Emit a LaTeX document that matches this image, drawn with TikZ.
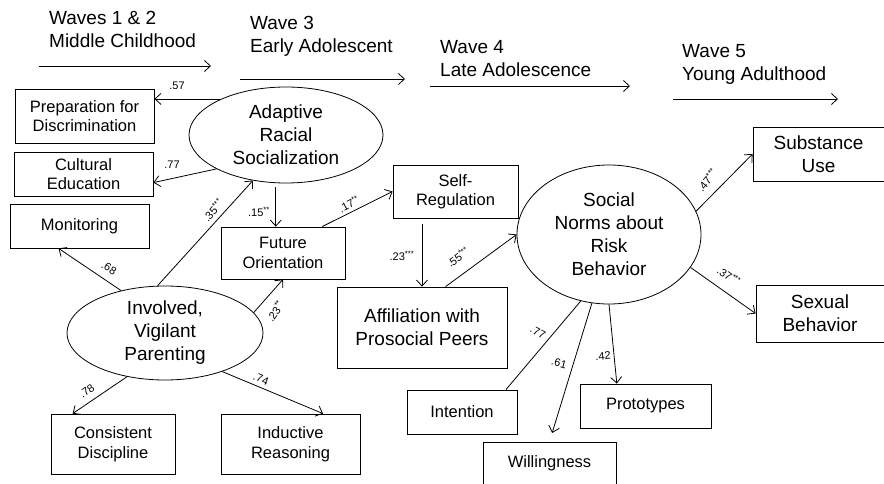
\documentclass[tikz,border=0pt]{standalone}
\usepackage{fontspec}
\setmainfont{Liberation Sans}
\usetikzlibrary{arrows.meta,calc,shapes.geometric}
\begin{document}
\begin{tikzpicture}[x=1pt,y=-1pt,
  box/.style={draw,line width=0.8pt,inner sep=0pt,align=center,font=\fontsize{16.5}{19.5}\selectfont},
  bigbox/.style={box,font=\fontsize{19}{23}\selectfont},
  lat/.style={draw,ellipse,line width=0.8pt,inner sep=0pt,align=center,font=\fontsize{19}{23}\selectfont},
  arr/.style={line width=0.8pt,-{Straight Barb[length=6pt,width=11pt]}},
  plain/.style={line width=0.8pt},
  lbl/.style={font=\fontsize{11}{12}\selectfont,inner sep=0pt},
  hdr/.style={align=left,anchor=west,inner sep=0pt,font=\fontsize{19}{23}\selectfont}]
\useasboundingbox (0,0) rectangle (884,484);

% header
\node[hdr] (w12) at (49,29) {Waves 1 \& 2\\Middle Childhood};
\node[hdr] (w3) at (250,36) {Wave 3\\Early Adolescent};
\node[hdr] (w4) at (440,59) {Wave 4\\Late Adolescence};
\node[hdr] (w5) at (682,64) {Wave 5\\Young Adulthood};
\coordinate (a1s) at (39,66);  \coordinate (a1e) at (211,66);
\coordinate (a3s) at (240,79); \coordinate (a3e) at (405,79);
\coordinate (a4s) at (430,86); \coordinate (a4e) at (630,86);
\coordinate (a5s) at (673,99); \coordinate (a5e) at (838,99);
\draw[arr] (a1s) -- (a1e);
\draw[arr] (a3s) -- (a3e);
\draw[arr] (a4s) -- (a4e);
\draw[arr] (a5s) -- (a5e);

% nodes
\node[box,minimum width=139pt,minimum height=54pt] (prep) at (84.5,116) {Preparation for\\Discrimination};
\node[box,minimum width=139pt,minimum height=44pt] (cult) at (83.5,174) {Cultural\\Education};
\node[box,minimum width=139pt,minimum height=44pt] (mon) at (79.5,226) {Monitoring};
\node[lat,minimum width=194pt,minimum height=96pt] (ars) at (286,135) {Adaptive\\Racial\\Socialization};
\node[box,minimum width=124pt,minimum height=52pt] (fut) at (283,253) {Future\\Orientation};
\node[box,minimum width=125pt,minimum height=53pt] (self) at (455.5,191.5) {Self-\\Regulation};
\node[lat,minimum width=184pt,minimum height=139pt] (sn) at (609,234.5) {Social\\Norms about\\Risk\\Behavior};
\node[bigbox,minimum width=131pt,minimum height=54pt] (sub) at (818.5,154) {Substance\\Use};
\node[bigbox,minimum width=128pt,minimum height=57pt] (sex) at (820,313.5) {Sexual\\Behavior};
\node[bigbox,minimum width=170pt,minimum height=81pt] (aff) at (422,327.5) {Affiliation with\\Prosocial Peers};
\node[lat,minimum width=196pt,minimum height=94pt] (ivp) at (165,333) {Involved,\\Vigilant\\Parenting};
\node[box,minimum width=124pt,minimum height=60pt] (cons) at (113,444) {Consistent\\Discipline};
\node[box,minimum width=139pt,minimum height=60pt] (ind) at (290.5,444) {Inductive\\Reasoning};
\node[box,minimum width=110pt,minimum height=44pt] (int) at (462,412) {Intention};
\node[box,minimum width=133pt,minimum height=42pt] (will) at (549.5,463) {Willingness};
\node[box,minimum width=131pt,minimum height=44pt] (proto) at (645.5,406) {Prototypes};

% connectors
\draw[arr] (ars.151) -- (ars.151 -| prep.east);
\draw[arr] (ars.206) -- (cult.-7);
\draw[arr] (ivp.136) -- (mon.227);
\draw[arr] (ivp.99) -- (ars.234);
\draw[arr,shorten <=4pt] (ars.258) -- (ars.258 |- fut.north);
\draw[arr] (ivp.13) -- (fut.south);
\draw[arr] (fut.34) -- (self.west);
\draw[arr,shorten <=6pt] (self.south -| aff.north) -- (aff.north);
\draw[arr] (aff.60) -- (sn.180);
\draw[arr] (sn.15) -- (sub.west);
\draw[arr] (sn.-22) -- (sex.west);
\draw[plain] (sn.247) -- (int.27);
\draw[arr,shorten >=9pt] (sn.256) -- (will.north);
\draw[arr] (sn.south) -- (proto.142);
\draw[arr] (ivp.229) -- (cons.143);
\draw[arr] (ivp.-34) -- (ind.43);

% labels
\node[lbl] (l57) at (177,86) {.57};
\node[lbl] (l77a) at (172,165) {.77};
\node[lbl,rotate=-32] (l68) at (109,268) {.68};
\node[lbl,rotate=48] (l35) at (213,210) {.35\textsuperscript{***}};
\node[lbl] (l15) at (259,212) {.15\textsuperscript{**}};
\node[lbl,rotate=55] (l23a) at (275,311) {.23\textsuperscript{**}};
\node[lbl,rotate=27] (l17) at (349,204) {.17\textsuperscript{**}};
\node[lbl] (l23b) at (402,256) {.23\textsuperscript{***}};
\node[lbl,rotate=36] (l55) at (458,257) {.55\textsuperscript{***}};
\node[lbl,rotate=50] (l47) at (707,180) {.47\textsuperscript{***}};
\node[lbl,rotate=-35] (l37) at (729,276) {.37\textsuperscript{***}};
\node[lbl,rotate=-28] (l77b) at (538,332) {.77};
\node[lbl,rotate=-15] (l61) at (559,363) {.61};
\node[lbl,rotate=5] (l42) at (603,356) {.42};
\node[lbl,rotate=35] (l78) at (87,391) {.78};
\node[lbl,rotate=-22] (l74) at (261,379) {.74};
\end{tikzpicture}
\end{document}
